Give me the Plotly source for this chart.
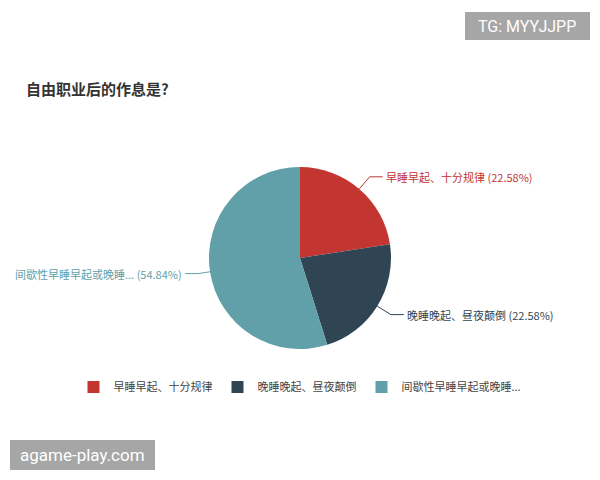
import math
import plotly.graph_objects as go

# data
labels = ["早睡早起、十分规律", "晚睡晚起、昼夜颠倒", "间歇性早睡早起或晚睡..."]
counts = [7, 7, 17]
colors = ["#c23531", "#2f4554", "#61a0a8"]

# the page body adds an 8px margin, so the figure is drawn 8px in
OFF = 8
W, H = 600 - OFF, 480 - OFF
cx, cy, r = 300, 258, 91
FONT = "Noto Sans CJK SC, Noto Sans, sans-serif"


def px(x, y):
    return (x - OFF) / W, 1 - (y - OFF) / H


(dx0, dy1), (dx1, dy0) = px(cx - r, cy - r), px(cx + r, cy + r)
fig = go.Figure(go.Pie(
    labels=labels,
    values=counts,
    sort=False,
    direction="clockwise",
    rotation=0,
    marker=dict(colors=colors, line=dict(width=0)),
    textinfo="none",
    hoverinfo="skip",
    domain=dict(x=[dx0, dx1], y=[dy0, dy1]),
))

# outside labels with leader lines, placed from the slice angles
total = sum(counts)
start = 0
shapes, annotations = [], []
for lab, v, col in zip(labels, counts, colors):
    mid = math.radians((start + v / 2) / total * 360)
    start += v
    sx, sy = math.sin(mid), -math.cos(mid)
    side = 1 if sx >= 0 else -1
    seg1 = 16 if side > 0 else 12
    x0, y0 = cx + r * sx, cy + r * sy
    x1, y1 = cx + (r + seg1) * sx, cy + (r + seg1) * sy
    x2 = x1 + side * 13
    pts = [px(x0, y0), px(x1, y1), px(x2, y1)]
    path = "M {} {} L {} {} L {} {}".format(*[c for p in pts for c in p])
    shapes.append(dict(type="path", path=path, xref="paper", yref="paper",
                       line=dict(color=col, width=1)))
    tx, ty = px(x2 + side * 1, y1)
    annotations.append(dict(
        x=tx, y=ty, xref="paper", yref="paper", showarrow=False,
        xanchor="left" if side > 0 else "right", yanchor="middle",
        text=f"{lab} ({v / total * 100:.2f}%)",
        font=dict(size=11, color=col, family=FONT),
    ))

# title and watermarks
tx, ty = px(24, 88)
annotations.append(dict(
    x=tx, y=ty, xref="paper", yref="paper", showarrow=False,
    xanchor="left", yanchor="middle", text="<b>自由职业后的作息是?</b>",
    font=dict(size=15, color="#333333", family=FONT),
))
tx, ty = px(527, 26)
annotations.append(dict(
    x=tx, y=ty, xref="paper", yref="paper", showarrow=False,
    xanchor="center", yanchor="middle", text="TG: MYYJJPP",
    font=dict(size=16, color="white", family="Roboto, sans-serif"),
))
tx, ty = px(82, 455)
annotations.append(dict(
    x=tx, y=ty, xref="paper", yref="paper", showarrow=False,
    xanchor="center", yanchor="middle", text="agame-play.com",
    font=dict(size=17, color="white", family="Roboto, sans-serif"),
))
for (ax0, ay0), (ax1, ay1) in [((465, 12), (590, 40)), ((10, 440), (155, 470))]:
    p0, p1 = px(ax0, ay1), px(ax1, ay0)
    shapes.append(dict(type="rect", xref="paper", yref="paper",
                       x0=p0[0], x1=p1[0], y0=p0[1], y1=p1[1],
                       fillcolor="#a6a6a6", line=dict(width=0), layer="below"))

lx, ly = px(300, 387)
fig.update_layout(
    width=W, height=H,
    margin=dict(l=0, r=0, t=0, b=0),
    paper_bgcolor="white",
    font=dict(family=FONT),
    shapes=shapes,
    annotations=annotations,
    legend=dict(orientation="h", x=lx, xanchor="center", y=ly,
                yanchor="middle", font=dict(size=11, color="#444444"),
                itemclick=False, itemdoubleclick=False),
)

fig.write_html("out.html")
